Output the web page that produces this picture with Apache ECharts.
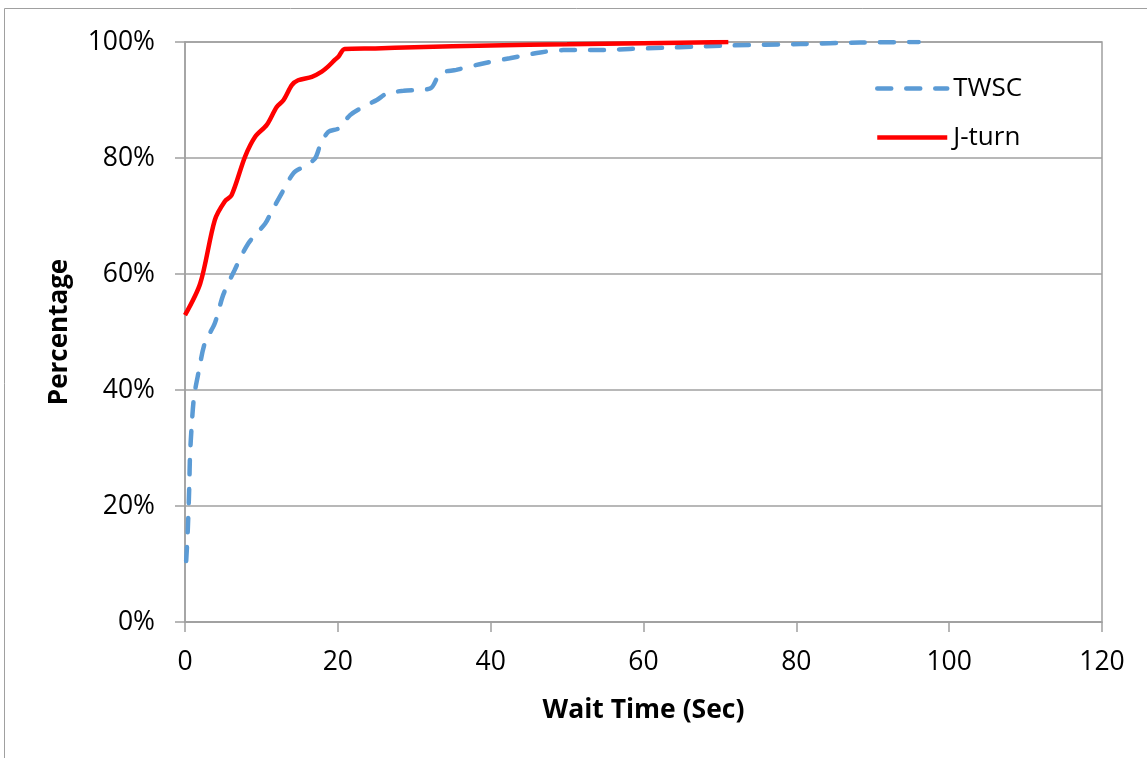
<!DOCTYPE html>
<html>
<head>
<meta charset="utf-8">
<script src="https://cdn.jsdelivr.net/npm/echarts@6/dist/echarts.min.js"></script>
<style>html,body{margin:0;padding:0;background:#fff;}#c{width:1147px;height:758px;}</style>
</head>
<body>
<div id="c"></div>
<script>
var xTicks = [0, 20, 40, 60, 80, 100, 120];
var yTicks = [0, 20, 40, 60, 80, 100];
var seriesNames = ['TWSC', 'J-turn'];
var twscX = [0.15, 0.3, 0.43, 0.57, 0.65, 0.87, 1.18, 1.75, 2.6, 3.9, 5.0, 6.5, 8.3, 10.5, 11.3, 12.65, 14.2, 15.5, 17.0, 17.7, 18.75, 20.1, 21.6, 23.3, 25.1, 26.4, 28.6, 32.1, 33.4, 35.5, 39, 42.5, 46.5, 49.5, 53.9, 58.2, 62.6, 66.9, 71.3, 80.5, 88.3, 96];
var twscY = [10.5, 14, 18.2, 24, 28.5, 33.7, 38.8, 42.9, 48.1, 51.5, 56.4, 60.7, 65.3, 68.7, 70.7, 73.9, 77.4, 78.5, 79.9, 82.2, 84.5, 85.1, 87.4, 88.8, 90.0, 91.1, 91.6, 92.0, 94.6, 95.2, 96.3, 97.2, 98.2, 98.6, 98.6, 98.8, 99.0, 99.2, 99.4, 99.65, 99.9, 100];
var jturnX = [0, 2.0, 3.9, 5.2, 6.1, 7.85, 9.2, 10.7, 12.0, 12.9, 14.0, 14.8, 16.6, 17.9, 18.75, 19.6, 20.1, 20.9, 24.9, 30, 40, 50, 60, 71.1];
var jturnY = [52.9, 58.4, 69.3, 72.5, 73.6, 80.2, 83.7, 85.7, 88.8, 90.0, 92.6, 93.4, 94.0, 94.9, 95.8, 96.9, 97.5, 98.8, 98.9, 99.1, 99.4, 99.6, 99.8, 100];

function pairs(xs, ys) { return xs.map(function (x, i) { return [x, ys[i]]; }); }

var FONT = 'Open Sans';
var GRAY = '#a0a0a0';
var BLUE = '#5B9BD5';
var RED = '#FF0000';
var chart = echarts.init(document.getElementById('c'), null, {renderer: 'canvas'});
chart.setOption({
  animation: false,
  backgroundColor: '#fff',
  textStyle: {fontFamily: FONT},
  graphic: [{
    type: 'rect', silent: true,
    shape: {x: 4.5, y: 8.5, width: 1300, height: 900},
    style: {fill: 'none', stroke: GRAY, lineWidth: 1}
  }],
  grid: {left: 185, top: 42, right: 45, bottom: 136, show: true, borderColor: GRAY, borderWidth: 1.5, backgroundColor: 'transparent'},
  legend: {
    orient: 'vertical',
    left: 870, top: 65,
    itemWidth: 70, itemHeight: 14, itemGap: 12,
    itemStyle: {opacity: 0},
    textStyle: {fontFamily: FONT, fontSize: 26, color: '#000', padding: [0, 0, 0, 1], lineHeight: 37},
    data: [
      {name: seriesNames[0], lineStyle: {color: BLUE, width: 4.5, type: [14, 15], cap: 'round'}},
      {name: seriesNames[1], lineStyle: {color: RED, width: 4.5}}
    ]
  },
  xAxis: {
    type: 'value', min: xTicks[0], max: xTicks[xTicks.length - 1], interval: 20,
    name: 'Wait Time (Sec)', nameLocation: 'middle', nameGap: 75,
    nameTextStyle: {fontFamily: FONT, fontSize: 26.5, fontWeight: 'bold', color: '#000'},
    axisLine: {show: true, lineStyle: {color: GRAY, width: 1.5}},
    axisTick: {show: true, length: 10, lineStyle: {color: GRAY, width: 1.5}},
    axisLabel: {fontFamily: FONT, fontSize: 26.5, color: '#000', margin: 27},
    splitLine: {show: false}
  },
  yAxis: {
    type: 'value', min: yTicks[0], max: yTicks[yTicks.length - 1], interval: 20,
    name: 'Percentage', nameLocation: 'middle', nameGap: 112,
    nameTextStyle: {fontFamily: FONT, fontSize: 26, fontWeight: 'bold', color: '#000'},
    axisLine: {show: true, lineStyle: {color: GRAY, width: 1.5}},
    axisTick: {show: true, length: 10, lineStyle: {color: GRAY, width: 1.5}},
    axisLabel: {fontFamily: FONT, fontSize: 26.5, color: '#000', margin: 30, formatter: '{value}%'},
    splitLine: {show: true, lineStyle: {color: GRAY, width: 1.5}}
  },
  series: [{
    name: seriesNames[0], type: 'line', data: pairs(twscX, twscY),
    showSymbol: false, symbol: 'none', smooth: 0.3,
    lineStyle: {color: BLUE, width: 4.5, type: [14, 15], cap: 'round'},
    itemStyle: {color: BLUE}
  }, {
    name: seriesNames[1], type: 'line', data: pairs(jturnX, jturnY),
    showSymbol: false, symbol: 'none', smooth: 0.3,
    lineStyle: {color: RED, width: 4.5},
    itemStyle: {color: RED}
  }]
});
</script>
</body>
</html>
